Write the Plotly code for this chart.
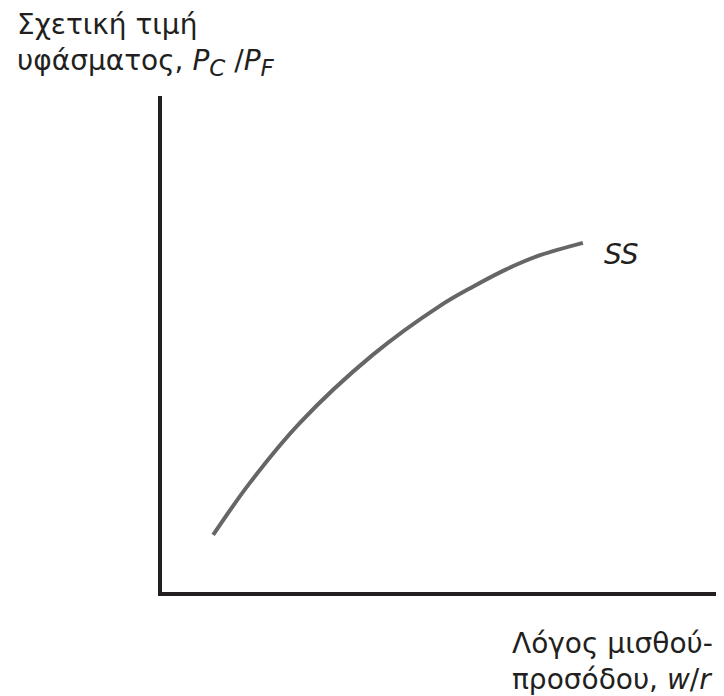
import plotly.graph_objects as go

# SS curve (wage-rent ratio vs relative cloth price)
wage_rent = [0.92, 1.58, 2.48, 3.79, 5.00, 5.60, 6.20, 6.80, 7.57]
rel_price = [1.15, 2.20, 3.41, 4.78, 5.77, 6.16, 6.51, 6.79, 7.04]

INK = "#231f20"
FONT = "DejaVu Sans, Arial, sans-serif"
SIZE = 28

fig = go.Figure()
fig.add_trace(go.Scatter(
    x=wage_rent, y=rel_price, mode="lines",
    line=dict(color="#666666", width=4, shape="spline", smoothing=1.0),
    hoverinfo="skip", showlegend=False,
))

axis = dict(showline=True, linecolor=INK, linewidth=4, showgrid=False,
            zeroline=False, showticklabels=False, ticks="", range=[0, 10])
fig.update_xaxes(**axis)
fig.update_yaxes(**axis)

sub = '<sub><span style="font-size:23px">{}</span></sub>'
y_title = ("Σχετική τιμή<br>υφάσματος, <i>P" + sub.format("C")
           + "</i> /<i>P" + sub.format("F") + "</i>")

fig.add_annotation(text="<i>SS</i>", x=7.91, y=6.81, xref="x", yref="y",
                   xanchor="left", yanchor="middle", showarrow=False,
                   font=dict(size=SIZE, color=INK, family=FONT))
fig.add_annotation(text=y_title,
                   x=-0.264, y=1.181, xref="paper", yref="paper",
                   xanchor="left", yanchor="top", align="left", showarrow=False,
                   font=dict(size=SIZE, color=INK, family=FONT))
fig.add_annotation(text="Λόγος μισθού-<br>προσόδου, <i>w</i>/<i>r</i>",
                   x=0.626, y=-0.0665, xref="paper", yref="paper",
                   xanchor="left", yanchor="top", align="left", showarrow=False,
                   font=dict(size=SIZE, color=INK, family=FONT))

fig.update_layout(
    width=716, height=688,
    margin=dict(l=154, r=6, t=88, b=104),
    paper_bgcolor="white", plot_bgcolor="white",
)

fig.write_html("out.html")
